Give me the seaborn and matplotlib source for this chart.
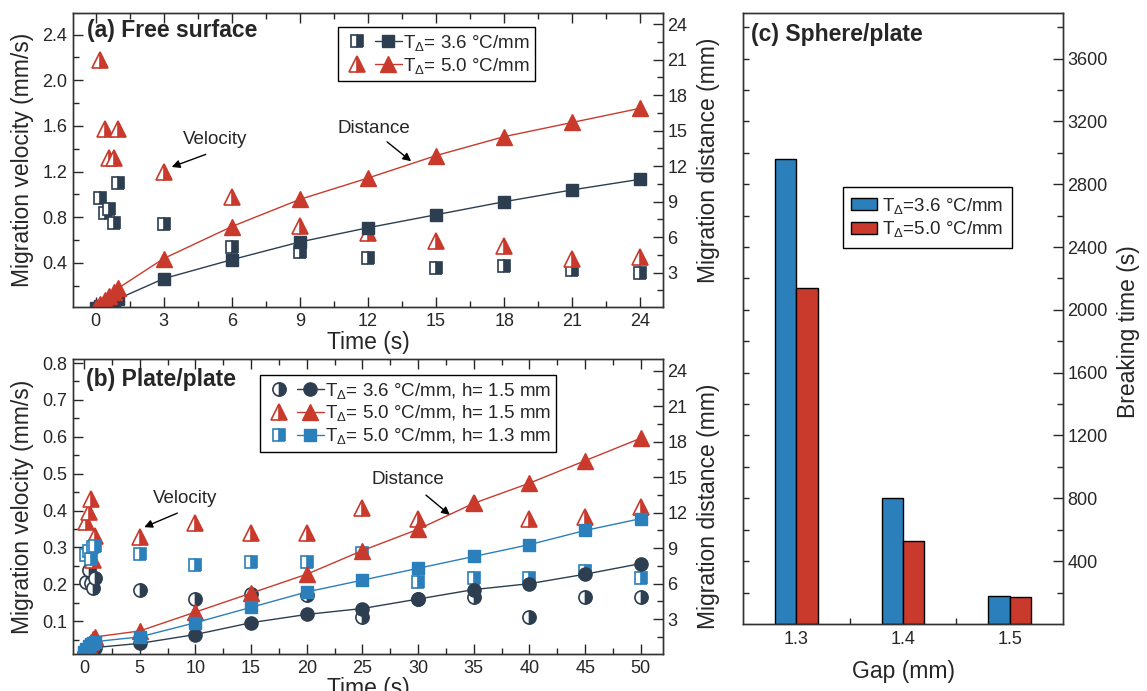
import numpy as np
import pandas as pd
import matplotlib
matplotlib.use("Agg")
import matplotlib.pyplot as plt
import seaborn as sns
from matplotlib.lines import Line2D
from matplotlib.legend_handler import HandlerTuple

# ---------------- data ----------------
# (a) Free surface
a_t_vel = [0.2, 0.4, 0.6, 0.8, 1.0, 3, 6, 9, 12, 15, 18, 21, 24]
a_vel_36 = [0.97, 0.84, 0.87, 0.75, 1.10, 0.74, 0.54, 0.49, 0.44, 0.35, 0.37, 0.34, 0.31]
a_vel_50 = [2.18, 1.57, 1.32, 1.32, 1.57, 1.20, 0.98, 0.72, 0.66, 0.59, 0.55, 0.43, 0.45]
a_t_dist = [0, 0.2, 0.4, 0.6, 0.8, 1.0, 3, 6, 9, 12, 15, 18, 21, 24]
a_dist_36 = [0.05, 0.2, 0.35, 0.5, 0.65, 0.8, 2.5, 4.1, 5.6, 6.8, 7.9, 9.0, 10.0, 10.9]
a_dist_50 = [0.05, 0.35, 0.7, 1.0, 1.35, 1.7, 4.2, 6.9, 9.2, 11.0, 12.9, 14.5, 15.7, 16.9]

# (b) Plate/plate
b_t_vel = [0.2, 0.4, 0.6, 0.8, 1.0, 5, 10, 15, 20, 25, 30, 35, 40, 45, 50]
b_vel_36_h15 = [0.205, 0.238, 0.203, 0.19, 0.216, 0.184, 0.16, 0.175, 0.17, 0.111, 0.16, 0.165, 0.111, 0.165, 0.165]
b_vel_50_h15 = [0.37, 0.395, 0.43, 0.265, 0.33, 0.328, 0.366, 0.339, 0.339, 0.408, 0.377, 0.42, 0.377, 0.382, 0.409]
b_vel_50_h13 = [0.28, 0.29, 0.27, 0.30, 0.305, 0.281, 0.252, 0.26, 0.26, 0.285, 0.206, 0.217, 0.217, 0.236, 0.217]
b_t_dist = [0, 0.2, 0.4, 0.6, 0.8, 1.0, 5, 10, 15, 20, 25, 30, 35, 40, 45, 50]
b_dist_36_h15 = [0.1, 0.2, 0.3, 0.4, 0.5, 0.6, 0.95, 1.7, 2.7, 3.4, 3.9, 4.7, 5.5, 6.0, 6.8, 7.7]
b_dist_50_h15 = [0.1, 0.5, 0.8, 1.1, 1.3, 1.5, 2.0, 3.6, 5.2, 6.8, 8.8, 10.6, 12.8, 14.5, 16.4, 18.3]
b_dist_50_h13 = [0.2, 0.5, 0.7, 0.9, 1.0, 1.1, 1.5, 2.7, 4.0, 5.3, 6.3, 7.3, 8.3, 9.3, 10.5, 11.5]

# (c) Sphere/plate
gaps = ["1.3", "1.4", "1.5"]
break_36 = [2960, 805, 177]
break_50 = [2140, 527, 172]

lab_a36 = r"T$_{\Delta}$= 3.6 °C/mm"
lab_a50 = r"T$_{\Delta}$= 5.0 °C/mm"
lab_b36 = r"T$_{\Delta}$= 3.6 °C/mm, h= 1.5 mm"
lab_b50 = r"T$_{\Delta}$= 5.0 °C/mm, h= 1.5 mm"
lab_b13 = r"T$_{\Delta}$= 5.0 °C/mm, h= 1.3 mm"
lab_c36 = r"T$_{\Delta}$=3.6 °C/mm"
lab_c50 = r"T$_{\Delta}$=5.0 °C/mm"

# ---------------- style ----------------
sns.set_theme(style="white")
plt.rcParams["font.family"] = ["Liberation Sans", "DejaVu Sans"]
plt.rcParams["mathtext.fontset"] = "custom"
plt.rcParams["mathtext.rm"] = "Liberation Sans"
plt.rcParams["mathtext.it"] = "Liberation Sans:italic"
plt.rcParams["mathtext.bf"] = "Liberation Sans:bold"
plt.rcParams["axes.edgecolor"] = "#333333"
plt.rcParams["axes.linewidth"] = 1.0

DARK = "#2c3e50"
RED = "#c93a2d"
BLUE = "#2b7fba"
TICK = 13
LAB = 16.5
LEG = 13.5
TITLE = 16.5

fig = plt.figure(figsize=(11.47, 6.91), dpi=100)
ax_a = fig.add_axes([0.0636, 0.5557, 0.5145, 0.4255])
ax_b = fig.add_axes([0.0636, 0.0535, 0.5145, 0.4270])
ax_c = fig.add_axes([0.6478, 0.0970, 0.2790, 0.8842])
ax_a2 = ax_a.twinx()
ax_b2 = ax_b.twinx()


def half(ax, t, v, color, marker, ms):
    sns.lineplot(x=t, y=v, ax=ax, color=color, linestyle="", marker=marker,
                 markersize=ms, fillstyle="right", markerfacecolor=color,
                 markerfacecoloralt="white", markeredgecolor=color,
                 markeredgewidth=1.2, estimator=None, sort=False, legend=False)


def full(ax, t, d, color, marker, ms):
    sns.lineplot(x=t, y=d, ax=ax, color=color, linewidth=1.0, marker=marker,
                 markersize=ms, markerfacecolor=color, markeredgecolor=color,
                 markeredgewidth=1.0, estimator=None, sort=False, legend=False)


# ---- panel (a) ----
half(ax_a, a_t_vel, a_vel_36, DARK, "s", 9)
half(ax_a, a_t_vel, a_vel_50, RED, "^", 12)
full(ax_a2, a_t_dist, a_dist_36, DARK, "s", 9)
full(ax_a2, a_t_dist, a_dist_50, RED, "^", 12)

ax_a.set_xlim(-1, 25)
ax_a.set_ylim(0.012, 2.59)
ax_a2.set_ylim(0.1, 24.95)
ax_a.set_xticks(np.arange(0, 25, 3))
ax_a.set_xticks(np.arange(1.5, 25, 3), minor=True)
ax_a.set_yticks(np.arange(0.4, 2.41, 0.4))
ax_a.set_yticks(np.arange(0.2, 2.59, 0.4), minor=True)
ax_a.set_yticklabels([f"{v:.1f}" for v in np.arange(0.4, 2.41, 0.4)])
ax_a2.set_yticks(np.arange(3, 25, 3))
ax_a2.set_yticks(np.arange(1.5, 25, 3), minor=True)
ax_a.set_xlabel("Time (s)", fontsize=LAB, labelpad=1)
ax_a.set_ylabel("Migration velocity (mm/s)", fontsize=LAB, labelpad=6)
ax_a2.set_ylabel("Migration distance (mm)", fontsize=LAB, labelpad=7)
ax_a.text(0.024, 0.978, "(a) Free surface", transform=ax_a.transAxes,
          fontsize=TITLE, fontweight="bold", ha="left", va="top")
ax_a.text(5.25, 1.48, "Velocity", fontsize=LEG, ha="center", va="center")
ax_a.annotate("", xy=(3.35, 1.24), xytext=(4.85, 1.35),
              arrowprops=dict(arrowstyle="-|>", color="black", lw=1,
                              mutation_scale=12, shrinkA=0, shrinkB=0))
ax_a.text(12.26, 1.58, "Distance", fontsize=LEG, ha="center", va="center")
ax_a.annotate("", xy=(13.9, 1.29), xytext=(12.84, 1.46),
              arrowprops=dict(arrowstyle="-|>", color="black", lw=1,
                              mutation_scale=12, shrinkA=0, shrinkB=0))

# ---- panel (b) ----
half(ax_b, b_t_vel, b_vel_36_h15, DARK, "o", 9.5)
half(ax_b, b_t_vel, b_vel_50_h15, RED, "^", 11.5)
half(ax_b, b_t_vel, b_vel_50_h13, BLUE, "s", 9)
full(ax_b2, b_t_dist, b_dist_36_h15, DARK, "o", 9.5)
full(ax_b2, b_t_dist, b_dist_50_h15, RED, "^", 11.5)
full(ax_b2, b_t_dist, b_dist_50_h13, BLUE, "s", 9)

ax_b.set_xlim(-1, 52)
ax_b.set_ylim(0.011, 0.811)
ax_b2.set_ylim(0.05, 25.0)
ax_b.set_xticks(np.arange(0, 51, 5))
ax_b.set_xticks(np.arange(2.5, 52, 5), minor=True)
ax_b.set_yticks(np.arange(0.1, 0.81, 0.1))
ax_b.set_yticklabels([f"{v:.1f}" for v in np.arange(0.1, 0.81, 0.1)])
ax_b.set_yticks(np.arange(0.05, 0.81, 0.1), minor=True)
ax_b2.set_yticks(np.arange(3, 25, 3))
ax_b2.set_yticks(np.arange(1.5, 25, 3), minor=True)
ax_b.set_xlabel("Time (s)", fontsize=LAB, labelpad=0)
ax_b.set_ylabel("Migration velocity (mm/s)", fontsize=LAB, labelpad=6)
ax_b2.set_ylabel("Migration distance (mm)", fontsize=LAB, labelpad=7)
ax_b.text(0.022, 0.970, "(b) Plate/plate", transform=ax_b.transAxes,
          fontsize=TITLE, fontweight="bold", ha="left", va="top")
ax_b.text(9.09, 0.434, "Velocity", fontsize=LEG, ha="center", va="center")
ax_b.annotate("", xy=(5.4, 0.355), xytext=(8.37, 0.393),
              arrowprops=dict(arrowstyle="-|>", color="black", lw=1,
                              mutation_scale=12, shrinkA=0, shrinkB=0))
ax_b.text(29.07, 0.483, "Distance", fontsize=LEG, ha="center", va="center")
ax_b.annotate("", xy=(32.85, 0.388), xytext=(30.7, 0.442),
              arrowprops=dict(arrowstyle="-|>", color="black", lw=1,
                              mutation_scale=12, shrinkA=0, shrinkB=0))

for ax, ax2 in [(ax_a, ax_a2), (ax_b, ax_b2)]:
    ax.tick_params(which="both", direction="in", top=True, bottom=True,
                   left=True, right=False, labelsize=TICK, pad=4)
    ax.tick_params(which="major", length=7, width=1)
    ax.tick_params(which="minor", length=4, width=1)
    ax2.tick_params(which="both", direction="in", right=True, labelsize=TICK, pad=3)
    ax2.tick_params(which="major", length=7, width=1)
    ax2.tick_params(which="minor", length=4, width=1)


def tup(color, marker, ms):
    h1 = Line2D([], [], linestyle="", marker=marker, markersize=ms,
                fillstyle="right", markerfacecolor=color,
                markerfacecoloralt="white", markeredgecolor=color,
                markeredgewidth=1.2)
    h2 = Line2D([], [], color=color, linewidth=1.0, marker=marker,
                markersize=ms, markerfacecolor=color, markeredgecolor=color)
    return (h1, h2)


leg_kw = dict(handler_map={tuple: HandlerTuple(ndivide=None, pad=0.25)},
              loc="upper left", frameon=True, fancybox=False,
              edgecolor="black", framealpha=1, fontsize=LEG,
              handlelength=3.1, borderpad=0.3, labelspacing=0.15,
              handletextpad=0.05, borderaxespad=0, numpoints=1)
la = ax_a2.legend([tup(DARK, "s", 9), tup(RED, "^", 12)], [lab_a36, lab_a50],
                  bbox_to_anchor=(0.449, 0.952), **leg_kw)
la.get_frame().set_linewidth(1.0)
lb = ax_b2.legend([tup(DARK, "o", 9.5), tup(RED, "^", 11.5), tup(BLUE, "s", 9)],
                  [lab_b36, lab_b50, lab_b13],
                  bbox_to_anchor=(0.317, 0.946), **leg_kw)
lb.get_frame().set_linewidth(1.0)

# ---- panel (c) ----
df_c = pd.DataFrame({
    "Gap": gaps + gaps,
    "time": break_36 + break_50,
    "T": [lab_c36] * len(gaps) + [lab_c50] * len(gaps),
})
sns.barplot(data=df_c, x="Gap", y="time", hue="T", palette=[BLUE, RED],
            width=0.4, gap=0, saturation=1, edgecolor="black", linewidth=1,
            ax=ax_c)
ax_c.set_xlim(-0.5, 2.5)
ax_c.set_ylim(0, 3890)
ax_c2 = ax_c.twinx()
ax_c2.set_ylim(0, 3890)
ax_c.set_yticks(np.arange(200, 3801, 200))
ax_c.set_yticklabels([])
ax_c.set_ylabel("")
ax_c.set_xticks(range(len(gaps)))
ax_c.set_xticklabels(gaps)
ax_c.set_xticks([0.5, 1.5], minor=True)
ax_c.tick_params(axis="y", which="both", direction="in", left=True, right=False,
                 length=4, width=1)
ax_c.tick_params(axis="x", which="both", direction="in", bottom=True, top=False,
                 labelsize=TICK, pad=5, length=4, width=1)
ax_c2.set_yticks(np.arange(400, 3601, 400))
ax_c2.set_yticks(np.arange(200, 3801, 400), minor=True)
ax_c2.tick_params(which="both", direction="in", right=True, labelsize=TICK, pad=3, width=1)
ax_c2.tick_params(which="major", length=7)
ax_c2.tick_params(which="minor", length=4)
ax_c.set_xlabel("Gap (mm)", fontsize=LAB, labelpad=9)
ax_c2.set_ylabel("Breaking time (s)", fontsize=LAB, labelpad=9)
ax_c2.yaxis.set_label_coords(1.17, 0.478)
ax_c.text(0.025, 0.984, "(c) Sphere/plate", transform=ax_c.transAxes,
          fontsize=TITLE, fontweight="bold", ha="left", va="top")

hc, lc = ax_c.get_legend_handles_labels()
if ax_c.get_legend() is not None:
    ax_c.get_legend().remove()
lcg = ax_c2.legend(hc, lc, loc="upper left", bbox_to_anchor=(0.3125, 0.715),
                   frameon=True, fancybox=False, edgecolor="black", framealpha=1,
                   fontsize=LEG, handlelength=1.35, handleheight=0.6,
                   handletextpad=0.3, borderpad=0.45, labelspacing=0.2,
                   borderaxespad=0)
lcg.get_frame().set_linewidth(1.0)

fig.savefig("out.png", dpi=100)
